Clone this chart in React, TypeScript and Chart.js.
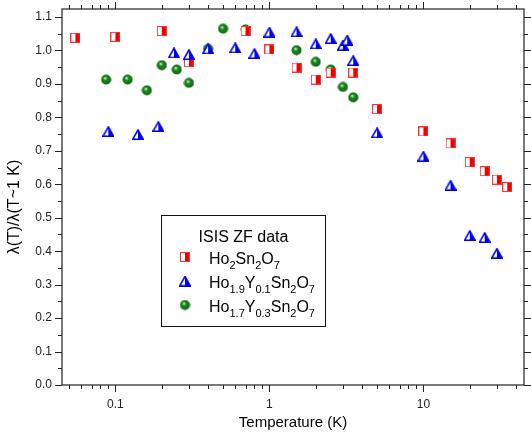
import React, { useEffect, useRef } from 'react';
import { Chart, registerables } from 'chart.js';
Chart.register(...registerables);

// Ho2Sn2O7
const ho2T = [0.055, 0.1, 0.2, 0.3, 0.7, 1.0, 1.5, 2.0, 2.5, 3.5, 5, 10, 15, 20, 25, 30, 35];
const ho2V = [1.038, 1.041, 1.058, 0.965, 1.058, 1.003, 0.949, 0.913, 0.934, 0.934, 0.825, 0.758, 0.722, 0.666, 0.639, 0.614, 0.592];
// Ho1.9Y0.1Sn2O7
const y01T = [0.09, 0.14, 0.19, 0.24, 0.3, 0.4, 0.6, 0.8, 1.0, 1.5, 2.0, 2.5, 3.0, 3.2, 3.5, 5, 10, 15, 20, 25, 30];
const y01V = [0.758, 0.749, 0.773, 0.993, 0.988, 1.005, 1.008, 0.991, 1.055, 1.056, 1.02, 1.036, 1.016, 1.031, 0.97, 0.754, 0.684, 0.597, 0.447, 0.441, 0.394];
// Ho1.7Y0.3Sn2O7
const y03T = [0.087, 0.12, 0.16, 0.2, 0.25, 0.3, 0.4, 0.5, 0.7, 1.5, 2.0, 2.5, 3.0, 3.5];
const y03V = [0.913, 0.913, 0.881, 0.956, 0.943, 0.903, 1.005, 1.065, 1.063, 1.001, 0.966, 0.943, 0.891, 0.86];

const xTickLabels = [0.1, 1, 10];
const yTickLabels = [0.0, 0.1, 0.2, 0.3, 0.4, 0.5, 0.6, 0.7, 0.8, 0.9, 1.0, 1.1];

const xTitle = 'Temperature (K)';
const yTitle = 'λ(T)/λ(T~1 K)';
const legendTitle = 'ISIS ZF data';
const legendRows: [string, string][][] = [
  [['Ho', '2'], ['Sn', '2'], ['O', '7']],
  [['Ho', '1.9'], ['Y', '0.1'], ['Sn', '2'], ['O', '7']],
  [['Ho', '1.7'], ['Y', '0.3'], ['Sn', '2'], ['O', '7']],
];

const FONT = '"Liberation Sans", Arial, sans-serif';

function makeSquare() {
  const c = document.createElement('canvas');
  c.width = 10; c.height = 10;
  const g = c.getContext('2d')!;
  g.fillStyle = '#ffffff';
  g.fillRect(0, 0, 10, 10);
  g.fillStyle = '#ee0000';
  g.fillRect(5, 0, 5, 10);
  g.strokeStyle = '#ff3333';
  g.lineWidth = 1;
  g.strokeRect(0.5, 0.5, 9, 9);
  return c;
}

function makeTriangle() {
  const c = document.createElement('canvas');
  c.width = 12; c.height = 11;
  const g = c.getContext('2d')!;
  g.beginPath();
  g.moveTo(6, 1);
  g.lineTo(11.2, 10.2);
  g.lineTo(0.8, 10.2);
  g.closePath();
  g.fillStyle = '#ffffff';
  g.fill();
  g.save();
  g.clip();
  g.fillStyle = '#0000ee';
  g.fillRect(6, 0, 6, 11);
  g.restore();
  g.strokeStyle = '#0000ee';
  g.lineWidth = 1.6;
  g.lineJoin = 'miter';
  g.stroke();
  return c;
}

function makeSphere() {
  const c = document.createElement('canvas');
  c.width = 11; c.height = 11;
  const g = c.getContext('2d')!;
  const grad = g.createRadialGradient(4.3, 3.8, 0, 5.5, 5.5, 5.5);
  grad.addColorStop(0, '#ffffff');
  grad.addColorStop(0.14, '#a8d8a8');
  grad.addColorStop(0.35, '#1e8c1e');
  grad.addColorStop(1, '#0a5e0a');
  g.fillStyle = grad;
  g.beginPath();
  g.arc(5.5, 5.5, 5, 0, Math.PI * 2);
  g.fill();
  return c;
}

export default function App() {
  const ref = useRef<HTMLCanvasElement | null>(null);

  useEffect(() => {
    const canvas = ref.current;
    if (!canvas) return;
    const sq = makeSquare();
    const tri = makeTriangle();
    const sph = makeSphere();

    const decoPlugin = {
      id: 'deco',
      beforeDraw(chart: any) {
        const ctx = chart.ctx;
        ctx.save();
        ctx.fillStyle = '#ffffff';
        ctx.fillRect(0, 0, chart.width, chart.height);
        ctx.restore();
      },
      afterDraw(chart: any) {
        const ctx: CanvasRenderingContext2D = chart.ctx;
        const { left, right, top, bottom } = chart.chartArea;
        const xs = chart.scales.x;
        const ys = chart.scales.y;
        ctx.save();
        // frame
        ctx.strokeStyle = '#222222';
        ctx.lineWidth = 1.2;
        ctx.strokeRect(left, top, right - left, bottom - top);
        // x ticks (log)
        ctx.lineWidth = 1;
        ctx.beginPath();
        for (let e = -2; e <= 1; e++) {
          for (let k = 1; k <= 9; k++) {
            const v = k * Math.pow(10, e);
            if (v < xs.min || v > xs.max) continue;
            const px = Math.round(xs.getPixelForValue(v)) + 0.5;
            const len = k === 1 ? 7 : 4;
            ctx.moveTo(px, bottom);
            ctx.lineTo(px, bottom + len);
            ctx.moveTo(px, top);
            ctx.lineTo(px, top - len);
          }
        }
        // y ticks
        for (let i = 0; i * 0.05 <= ys.max + 1e-9; i++) {
          const v = i * 0.05;
          const py = Math.round(ys.getPixelForValue(v)) + 0.5;
          const len = i % 2 === 0 ? 7 : 4;
          ctx.moveTo(left, py);
          ctx.lineTo(left - len, py);
          ctx.moveTo(right, py);
          ctx.lineTo(right + len, py);
        }
        ctx.stroke();

        // tick labels
        ctx.fillStyle = '#222222';
        ctx.font = `12px ${FONT}`;
        ctx.textAlign = 'center';
        ctx.textBaseline = 'middle';
        for (const v of xTickLabels) {
          ctx.fillText(String(v), xs.getPixelForValue(v), bottom + 20);
        }
        ctx.textAlign = 'right';
        for (const v of yTickLabels) {
          ctx.fillText(v.toFixed(1), left - 10, ys.getPixelForValue(v));
        }
        // axis titles
        ctx.font = `15px ${FONT}`;
        ctx.textAlign = 'center';
        ctx.fillStyle = '#000000';
        ctx.fillText(xTitle, (left + right) / 2, bottom + 38);
        ctx.save();
        ctx.translate(15, (top + bottom) / 2 + 10);
        ctx.rotate(-Math.PI / 2);
        ctx.font = `16px ${FONT}`;
        ctx.fillText(yTitle, 0, 0);
        ctx.restore();

        // legend
        const lx = 161.5, ly = 215.5, lw = 164, lh = 111;
        ctx.fillStyle = '#ffffff';
        ctx.fillRect(lx, ly, lw, lh);
        ctx.strokeStyle = '#111111';
        ctx.lineWidth = 1;
        ctx.strokeRect(lx, ly, lw, lh);
        ctx.fillStyle = '#000000';
        ctx.font = `16px ${FONT}`;
        ctx.textAlign = 'center';
        ctx.textBaseline = 'alphabetic';
        ctx.fillText(legendTitle, lx + lw / 2, 242);
        const markers = [sq, tri, sph];
        ctx.textAlign = 'left';
        legendRows.forEach((row, i) => {
          const base = 263.5 + i * 24;
          const m = markers[i];
          ctx.drawImage(m, 185 - m.width / 2, base - 6.5 - m.height / 2);
          let x = 209;
          for (const [main, sub] of row) {
            ctx.font = `16px ${FONT}`;
            ctx.fillText(main, x, base);
            x += ctx.measureText(main).width;
            ctx.font = `11px ${FONT}`;
            ctx.fillText(sub, x, base + 5);
            x += ctx.measureText(sub).width;
          }
        });
        ctx.restore();
      },
    };

    const toPts = (t: number[], v: number[]) => t.map((x, i) => ({ x, y: v[i] }));

    const chart = new Chart(canvas, {
      type: 'scatter',
      data: {
        datasets: [
          { label: 'Ho1.9Y0.1Sn2O7', data: toPts(y01T, y01V), pointStyle: tri as any, pointRadius: 5, order: 0 },
          { label: 'Ho2Sn2O7', data: toPts(ho2T, ho2V), pointStyle: sq as any, pointRadius: 5, order: 1 },
          { label: 'Ho1.7Y0.3Sn2O7', data: toPts(y03T, y03V), pointStyle: sph as any, pointRadius: 5, order: 2 },
        ],
      },
      options: {
        animation: false,
        responsive: false,
        maintainAspectRatio: false,
        devicePixelRatio: 1,
        layout: { padding: { left: 0, right: 7, top: 9, bottom: 0 } },
        plugins: { legend: { display: false }, tooltip: { enabled: false } },
        scales: {
          x: {
            type: 'logarithmic',
            min: 0.045,
            max: 45,
            ticks: { display: false },
            grid: { display: false, drawTicks: false },
            border: { display: false },
            afterFit: (s: any) => { s.height = 51; },
          },
          y: {
            type: 'linear',
            min: 0,
            max: 1.124,
            ticks: { display: false },
            grid: { display: false, drawTicks: false },
            border: { display: false },
            afterFit: (s: any) => { s.width = 62; },
          },
        },
      },
      plugins: [decoPlugin],
    });
    return () => chart.destroy();
  }, []);

  return (
    <div style={{ position: 'fixed', left: 0, top: 0, width: 531, height: 436, background: '#fff' }}>
      <canvas ref={ref} width={531} height={436} style={{ display: 'block', width: 531, height: 436 }} />
    </div>
  );
}
